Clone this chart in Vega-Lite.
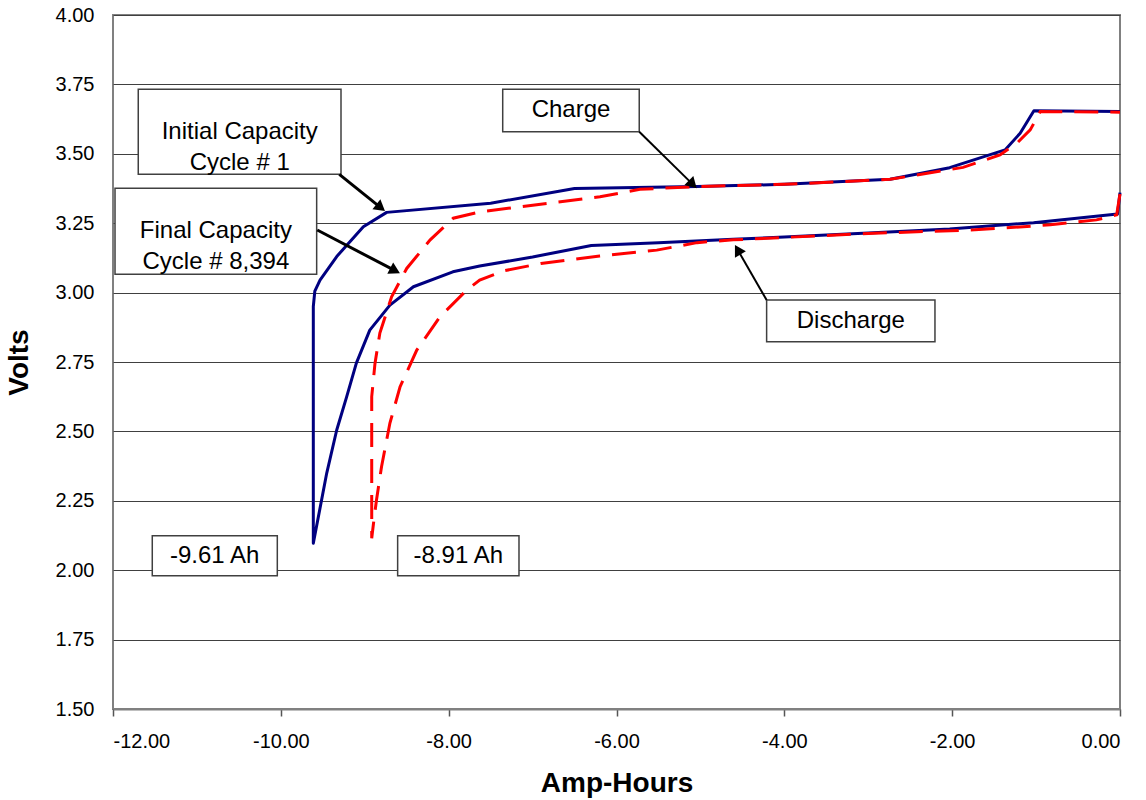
{
  "$schema": "https://vega.github.io/schema/vega-lite/v6.json",
  "width": 1007,
  "height": 694,
  "autosize": {"type": "none"},
  "padding": {"left": 113, "top": 15, "right": 26, "bottom": 91},
  "background": "white",
  "config": {
    "font": "Liberation Sans",
    "view": {"stroke": "#808080", "strokeWidth": 2},
    "axis": {"labelColor": "black", "titleColor": "black"}
  },
  "datasets": {
    "curves": [
      {"series": "Initial", "seq": 1, "x": 0, "y": 3.36},
      {"series": "Initial", "seq": 2, "x": -0.03, "y": 3.283},
      {"series": "Initial", "seq": 3, "x": -1.03, "y": 3.252},
      {"series": "Initial", "seq": 4, "x": -2.03, "y": 3.229},
      {"series": "Initial", "seq": 5, "x": -3.0, "y": 3.215},
      {"series": "Initial", "seq": 6, "x": -4.0, "y": 3.2},
      {"series": "Initial", "seq": 7, "x": -4.61, "y": 3.192},
      {"series": "Initial", "seq": 8, "x": -5.5, "y": 3.18},
      {"series": "Initial", "seq": 9, "x": -6.3, "y": 3.17},
      {"series": "Initial", "seq": 10, "x": -7.0, "y": 3.128},
      {"series": "Initial", "seq": 11, "x": -7.63, "y": 3.096},
      {"series": "Initial", "seq": 12, "x": -7.95, "y": 3.075},
      {"series": "Initial", "seq": 13, "x": -8.42, "y": 3.021},
      {"series": "Initial", "seq": 14, "x": -8.7, "y": 2.955},
      {"series": "Initial", "seq": 15, "x": -8.94, "y": 2.865},
      {"series": "Initial", "seq": 16, "x": -9.1, "y": 2.746},
      {"series": "Initial", "seq": 17, "x": -9.215, "y": 2.625},
      {"series": "Initial", "seq": 18, "x": -9.334, "y": 2.505},
      {"series": "Initial", "seq": 19, "x": -9.453, "y": 2.35},
      {"series": "Initial", "seq": 20, "x": -9.613, "y": 2.097},
      {"series": "Initial", "seq": 21, "x": -9.613, "y": 2.95},
      {"series": "Initial", "seq": 22, "x": -9.595, "y": 3.005},
      {"series": "Initial", "seq": 23, "x": -9.533, "y": 3.045},
      {"series": "Initial", "seq": 24, "x": -9.334, "y": 3.13},
      {"series": "Initial", "seq": 25, "x": -9.017, "y": 3.237},
      {"series": "Initial", "seq": 26, "x": -8.739, "y": 3.289},
      {"series": "Initial", "seq": 27, "x": -7.5, "y": 3.322},
      {"series": "Initial", "seq": 28, "x": -6.5, "y": 3.375},
      {"series": "Initial", "seq": 29, "x": -5.04, "y": 3.382},
      {"series": "Initial", "seq": 30, "x": -4.0, "y": 3.39},
      {"series": "Initial", "seq": 31, "x": -2.74, "y": 3.408},
      {"series": "Initial", "seq": 32, "x": -2.03, "y": 3.45},
      {"series": "Initial", "seq": 33, "x": -1.37, "y": 3.514},
      {"series": "Initial", "seq": 34, "x": -1.19, "y": 3.574},
      {"series": "Initial", "seq": 35, "x": -1.026, "y": 3.655},
      {"series": "Initial", "seq": 36, "x": 0, "y": 3.652},
      {"series": "Final", "seq": 1, "x": 0, "y": 3.355},
      {"series": "Final", "seq": 2, "x": -0.04, "y": 3.28},
      {"series": "Final", "seq": 3, "x": -0.28, "y": 3.262},
      {"series": "Final", "seq": 4, "x": -0.83, "y": 3.244},
      {"series": "Final", "seq": 5, "x": -1.73, "y": 3.226},
      {"series": "Final", "seq": 6, "x": -3.0, "y": 3.213},
      {"series": "Final", "seq": 7, "x": -4.61, "y": 3.19},
      {"series": "Final", "seq": 8, "x": -5.04, "y": 3.18},
      {"series": "Final", "seq": 9, "x": -5.52, "y": 3.153},
      {"series": "Final", "seq": 10, "x": -6.2, "y": 3.132},
      {"series": "Final", "seq": 11, "x": -6.9, "y": 3.105},
      {"series": "Final", "seq": 12, "x": -7.35, "y": 3.078},
      {"series": "Final", "seq": 13, "x": -7.63, "y": 3.045},
      {"series": "Final", "seq": 14, "x": -7.785, "y": 3.009},
      {"series": "Final", "seq": 15, "x": -8.104, "y": 2.913},
      {"series": "Final", "seq": 16, "x": -8.38, "y": 2.793},
      {"series": "Final", "seq": 17, "x": -8.58, "y": 2.66},
      {"series": "Final", "seq": 18, "x": -8.7, "y": 2.53},
      {"series": "Final", "seq": 19, "x": -8.8, "y": 2.373},
      {"series": "Final", "seq": 20, "x": -8.86, "y": 2.253},
      {"series": "Final", "seq": 21, "x": -8.886, "y": 2.193},
      {"series": "Final", "seq": 22, "x": -8.917, "y": 2.115},
      {"series": "Final", "seq": 23, "x": -8.917, "y": 2.625},
      {"series": "Final", "seq": 24, "x": -8.878, "y": 2.745},
      {"series": "Final", "seq": 25, "x": -8.82, "y": 2.854},
      {"series": "Final", "seq": 26, "x": -8.68, "y": 2.985},
      {"series": "Final", "seq": 27, "x": -8.5, "y": 3.087},
      {"series": "Final", "seq": 28, "x": -8.22, "y": 3.19},
      {"series": "Final", "seq": 29, "x": -7.945, "y": 3.268},
      {"series": "Final", "seq": 30, "x": -7.627, "y": 3.291},
      {"series": "Final", "seq": 31, "x": -6.197, "y": 3.345},
      {"series": "Final", "seq": 32, "x": -5.72, "y": 3.372},
      {"series": "Final", "seq": 33, "x": -5.04, "y": 3.382},
      {"series": "Final", "seq": 34, "x": -4.0, "y": 3.39},
      {"series": "Final", "seq": 35, "x": -2.74, "y": 3.408},
      {"series": "Final", "seq": 36, "x": -1.87, "y": 3.451},
      {"series": "Final", "seq": 37, "x": -1.43, "y": 3.496},
      {"series": "Final", "seq": 38, "x": -1.23, "y": 3.538},
      {"series": "Final", "seq": 39, "x": -1.07, "y": 3.586},
      {"series": "Final", "seq": 40, "x": -0.95, "y": 3.652},
      {"series": "Final", "seq": 41, "x": 0, "y": 3.65}
    ],
    "boxes": [
      {"label": "Initial Capacity\nCycle # 1", "x": -11.699, "x2": -9.283, "y": 3.7324, "y2": 3.4262, "cx": -10.49, "cy": 3.5793},
      {"label": "Final Capacity\nCycle # 8,394", "x": -11.976, "x2": -9.573, "y": 3.3757, "y2": 3.0659, "cx": -10.774, "cy": 3.2208},
      {"label": "Charge", "x": -7.356, "x2": -5.729, "y": 3.7324, "y2": 3.5796, "cx": -6.542, "cy": 3.656},
      {"label": "Discharge", "x": -4.211, "x2": -2.205, "y": 2.9733, "y2": 2.8231, "cx": -3.208, "cy": 2.898},
      {"label": "-9.61 Ah", "x": -11.532, "x2": -10.042, "y": 2.1243, "y2": 1.9802, "cx": -10.788, "cy": 2.0522},
      {"label": "-8.91 Ah", "x": -8.608, "x2": -7.162, "y": 2.1243, "y2": 1.9802, "cx": -7.885, "cy": 2.0522}
    ],
    "arrows": [
      {"name": "Initial", "weight": "heavy", "x": -9.303, "y": 3.426, "x2": -8.81, "y2": 3.306, "heading": 128.8},
      {"name": "Final", "weight": "heavy", "x": -9.566, "y": 3.2255, "x2": -8.6385, "y2": 3.0789, "heading": 117.6},
      {"name": "Charge", "weight": "light", "x": -5.729, "y": 3.5796, "x2": -5.091, "y2": 3.3898, "heading": 134.6},
      {"name": "Discharge", "weight": "light", "x": -4.211, "y": 2.9733, "x2": -4.556, "y2": 3.1542, "heading": -30}
    ]
  },
  "encoding": {
    "x": {
      "field": "x", "type": "quantitative",
      "scale": {"domain": [-12, 0], "nice": false, "zero": false},
      "axis": {
        "title": "Amp-Hours", "values": [-12, -10, -8, -6, -4, -2, 0], "format": ".2f",
        "labelExpr": "replace(datum.label, '\u2212', '-')",
        "grid": false, "tickSize": 7, "tickColor": "#555555", "tickWidth": 1.5,
        "domainColor": "#808080", "domainWidth": 2,
        "labelFontSize": 20, "labelPadding": 15, "labelFont": "Liberation Sans",
        "titleFontSize": 28, "titleFontWeight": "bold", "titleFont": "Liberation Sans", "titlePadding": 18
      }
    },
    "y": {
      "field": "y", "type": "quantitative",
      "scale": {"domain": [1.5, 4], "nice": false, "zero": false},
      "axis": {
        "title": "Volts", "values": [1.5, 1.75, 2, 2.25, 2.5, 2.75, 3, 3.25, 3.5, 3.75, 4], "format": ".2f",
        "grid": true, "gridColor": "#404040", "gridWidth": 1,
        "ticks": false, "domain": false,
        "labelFontSize": 20, "labelPadding": 19, "labelFont": "Liberation Sans",
        "titleFontSize": 28, "titleFontWeight": "bold", "titleFont": "Liberation Sans", "titlePadding": 22
      }
    }
  },
  "layer": [
    {
      "data": {"name": "curves"},
      "transform": [{"filter": "datum.series === 'Initial'"}],
      "mark": {"type": "line", "color": "#000080", "strokeWidth": 3, "strokeJoin": "round"},
      "encoding": {"order": {"field": "seq", "type": "quantitative"}}
    },
    {
      "data": {"name": "curves"},
      "transform": [{"filter": "datum.series === 'Final'"}],
      "mark": {"type": "line", "color": "#FF0000", "strokeWidth": 3, "strokeDash": [24, 12], "strokeCap": "butt"},
      "encoding": {"order": {"field": "seq", "type": "quantitative"}}
    },
    {
      "data": {"name": "boxes"},
      "mark": {"type": "rect", "fill": "white", "stroke": "#404040", "strokeWidth": 1.5},
      "encoding": {
        "x2": {"field": "x2"},
        "y2": {"field": "y2"}
      }
    },
    {
      "data": {"name": "arrows"},
      "transform": [{"filter": "datum.weight === 'heavy'"}],
      "mark": {"type": "rule", "color": "black", "strokeWidth": 3},
      "encoding": {
        "x2": {"field": "x2"},
        "y2": {"field": "y2"}
      }
    },
    {
      "data": {"name": "arrows"},
      "transform": [{"filter": "datum.weight === 'light'"}],
      "mark": {"type": "rule", "color": "black", "strokeWidth": 2},
      "encoding": {
        "x2": {"field": "x2"},
        "y2": {"field": "y2"}
      }
    },
    {
      "data": {"name": "arrows"},
      "mark": {"type": "point", "shape": "triangle-up", "filled": true, "color": "black", "opacity": 1, "size": 160, "strokeWidth": 0},
      "encoding": {
        "x": {"field": "x2", "type": "quantitative"},
        "y": {"field": "y2", "type": "quantitative"},
        "angle": {"field": "heading", "type": "quantitative", "scale": null}
      }
    },
    {
      "data": {"name": "boxes"},
      "mark": {"type": "text", "font": "Liberation Sans", "fontSize": 24, "color": "black", "align": "center", "baseline": "middle", "lineBreak": "\n", "lineHeight": 31},
      "encoding": {
        "x": {"field": "cx", "type": "quantitative"},
        "y": {"field": "cy", "type": "quantitative"},
        "text": {"field": "label"}
      }
    }
  ]
}
